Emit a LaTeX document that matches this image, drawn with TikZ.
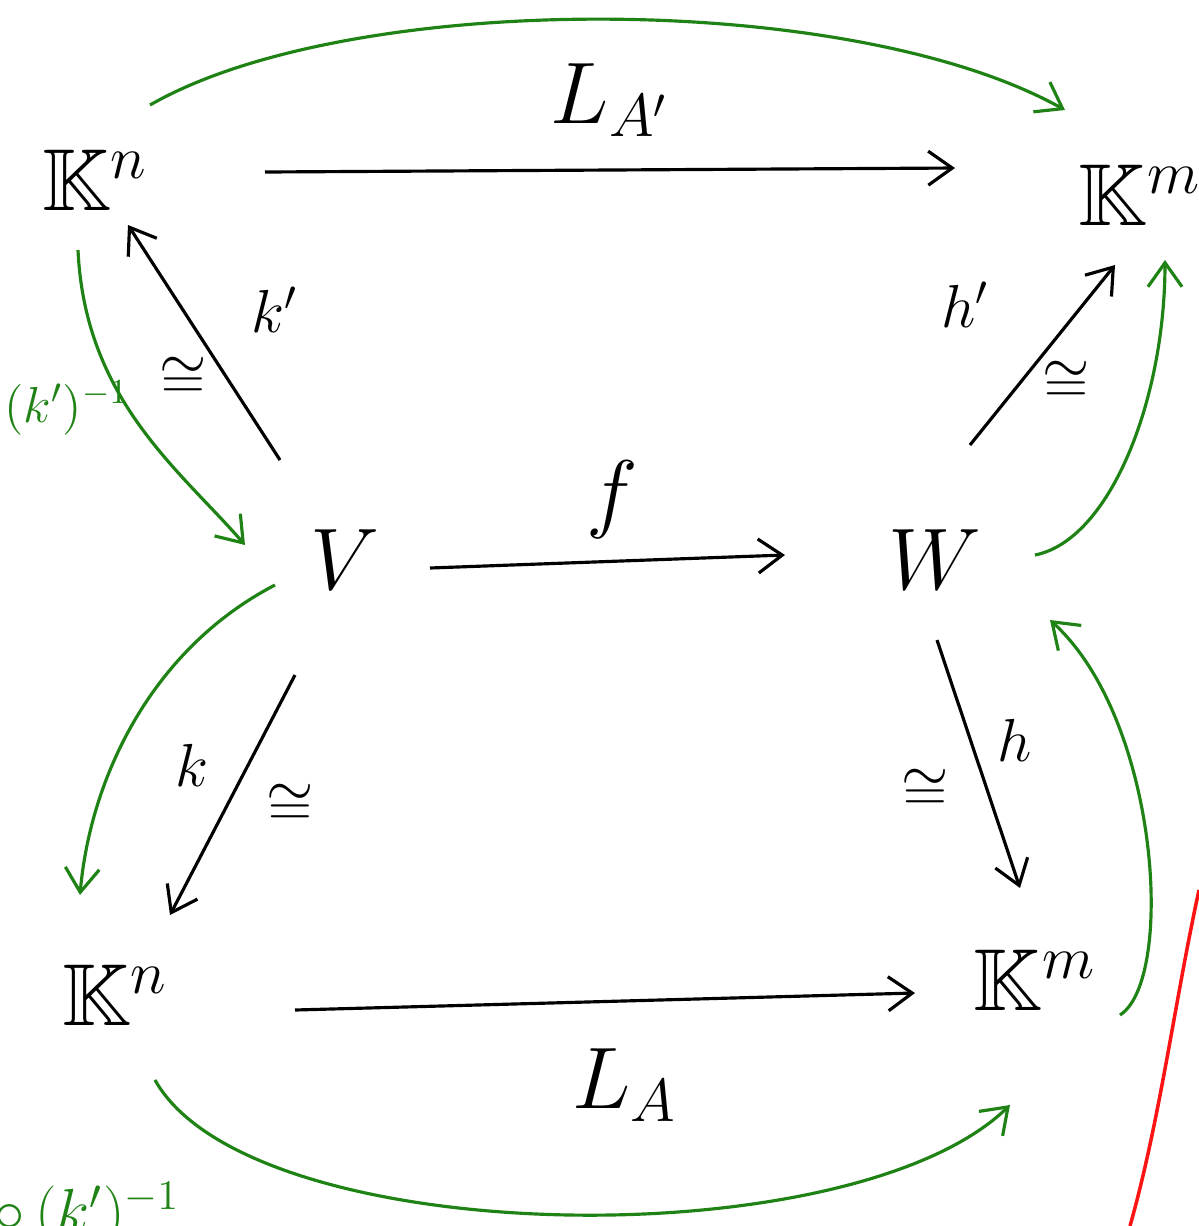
\documentclass[tikz,border=0pt]{standalone}
\usepackage{amsmath}
\usepackage{amssymb}
\usepackage{xcolor}
\usetikzlibrary{arrows.meta,calc}
\definecolor{penGreen}{RGB}{30,130,20}
\definecolor{penRed}{RGB}{250,20,20}

\begin{document}
\begin{tikzpicture}[
  x=0.01cm, y=-0.01cm,
  obj/.style={inner sep=0pt, font=\fontsize{25}{30}\selectfont},
  big/.style={inner sep=0pt, font=\fontsize{36}{42}\selectfont},
  lbl/.style={inner sep=0pt, font=\fontsize{24}{28}\selectfont},
  iso/.style={inner sep=0pt, font=\fontsize{17}{20}\selectfont},
  small/.style={inner sep=0pt, font=\fontsize{17}{20}\selectfont},
  arr/.style={-{Straight Barb[length=2.4mm, width=3.4mm]}, line width=0.9pt},
  garr/.style={arr, draw=penGreen},
  glbl/.style={inner sep=0pt, text=penGreen, font=\fontsize{14}{17}\selectfont}
]
\useasboundingbox (0,0) rectangle (1199,1226);
\clip (0,0) rectangle (1199,1226);

% objects
\node[obj] (Kn1) at (95,180) {$\mathbb{K}^n$};
\node[obj] (Km1) at (1140,195) {$\mathbb{K}^m$};
\node[big] (V) at (345,560) {$V$};
\node[big] (W) at (935,560) {$W$};
\node[obj] (Kn2) at (115,995) {$\mathbb{K}^n$};
\node[obj] (Km2) at (1035,980) {$\mathbb{K}^m$};

% black maps
\draw[arr] ([shift={(170,-8)}]Kn1.center) -- ([shift={(-185,-27)}]Km1.center);
\draw[arr] ([shift={(85,8)}]V.center) -- ([shift={(-150,-5)}]W.center);
\draw[arr] ([shift={(180,15)}]Kn2.center) -- ([shift={(-120,13)}]Km2.center);
\draw[arr] ([shift={(-65,-100)}]V.center) -- ([shift={(33,45)}]Kn1.center);
\draw[arr] ([shift={(35,-115)}]W.center) -- ([shift={(-25,70)}]Km1.center);
\draw[arr] ([shift={(-50,115)}]V.center) -- ([shift={(55,-80)}]Kn2.center);
\draw[arr] ([shift={(2,80)}]W.center) -- ([shift={(-15,-92)}]Km2.center);

\node[lbl] (la1) at (610,100) {$L_{A'}$};
\node[lbl] (lf) at (612,500) {$f$};
\node[lbl] (la) at (625,1085) {$L_A$};
\node[small] (lk1) at (275,310) {$k'$};
\node[small] (lh1) at (965,305) {$h'$};
\node[small] (lk) at (192,765) {$k$};
\node[small] (lh) at (1015,740) {$h$};
\node[iso] (iso1) at (183,378) {$\cong$};
\node[iso] (iso2) at (1066,382) {$\cong$};
\node[iso] (iso3) at (290,805) {$\cong$};
\node[iso] (iso4) at (925,790) {$\cong$};

% green maps
\draw[garr] ([shift={(55,-75)}]Kn1.center) .. controls (350,-10) and (850,-10) .. ([shift={(-75,-85)}]Km1.center);
\draw[garr] ([shift={(-17,70)}]Kn1.center) .. controls (85,400) and (180,470) .. ([shift={(-100,-15)}]V.center);
\draw[garr] ([shift={(-70,25)}]V.center) .. controls (150,650) and (90,780) .. ([shift={(-35,-100)}]Kn2.center);
\draw[garr] ([shift={(100,-5)}]W.center) .. controls (1110,540) and (1165,400) .. ([shift={(25,65)}]Km1.center);
\draw[garr] ([shift={(85,35)}]Km2.center) .. controls (1175,980) and (1160,720) .. ([shift={(115,60)}]W.center);
\draw[garr] ([shift={(40,85)}]Kn2.center) .. controls (250,1250) and (850,1260) .. ([shift={(-25,125)}]Km2.center);

\node[glbl, anchor=west] (kinv) at (4,408) {$(k')^{-1}$};
\node[glbl, anchor=north west, font=\fontsize{18}{21}\selectfont] (comp) at (-6,1182) {$\circ\,(k')^{-1}$};

% red stroke
\draw[penRed, line width=1pt] (1199,890) .. controls (1175,1000) and (1160,1120) .. (1130,1226);
\end{tikzpicture}
\end{document}
